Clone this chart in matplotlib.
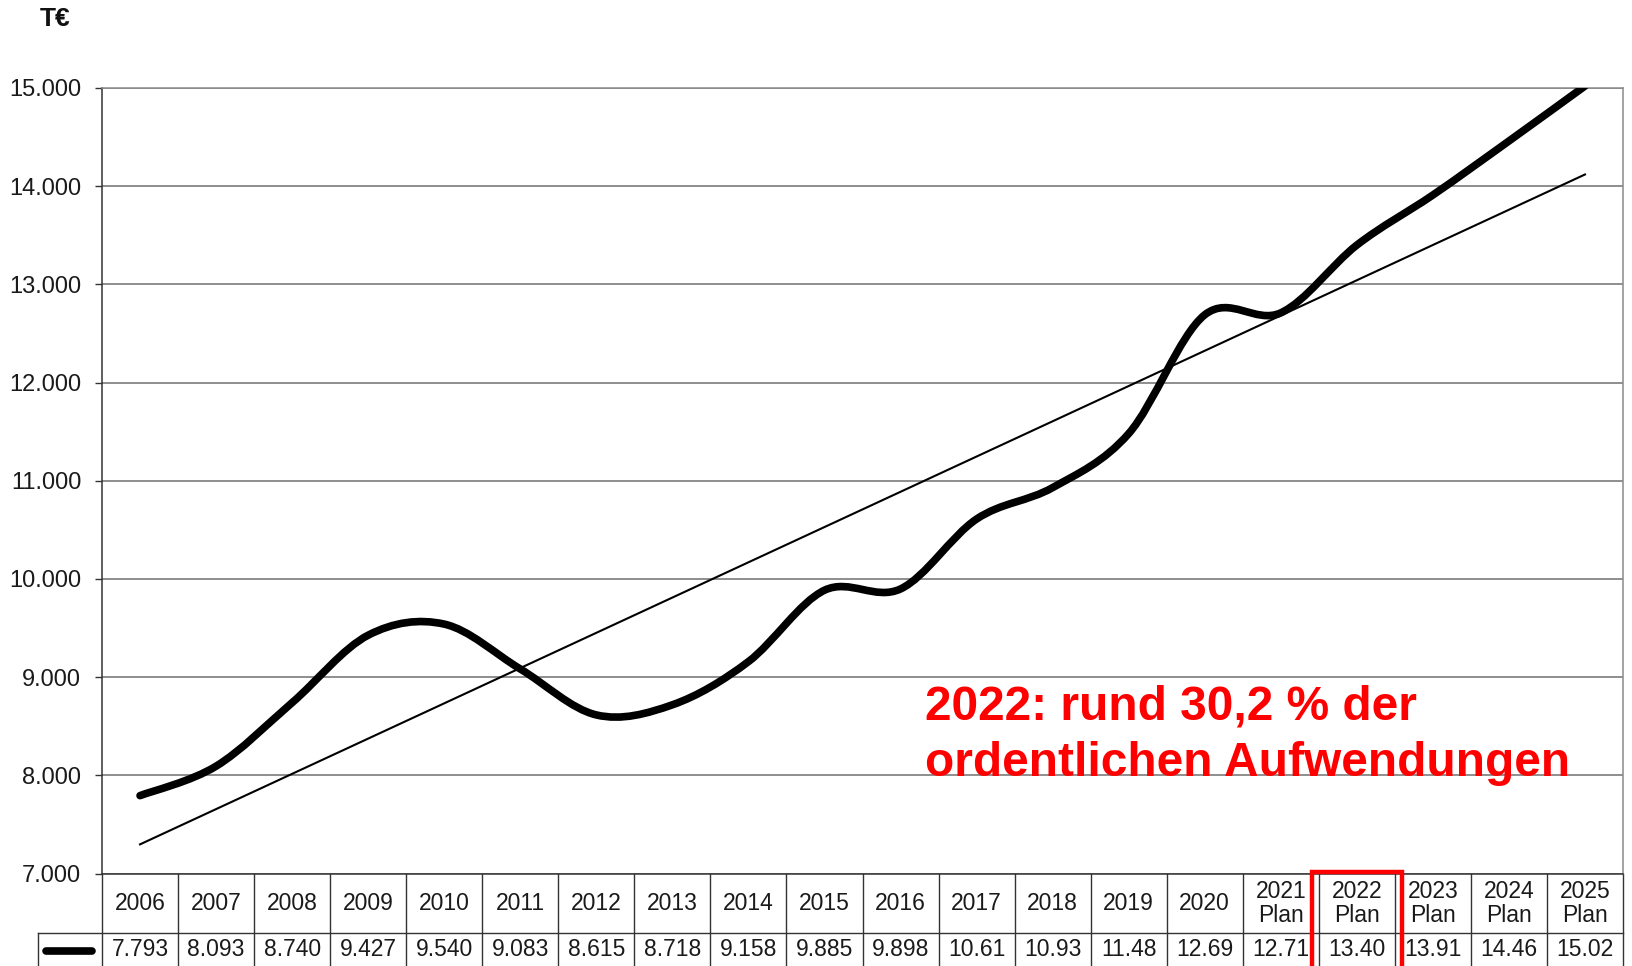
import matplotlib
matplotlib.use("Agg")
import matplotlib.pyplot as plt
import matplotlib.transforms as mtransforms
from matplotlib.path import Path
from matplotlib.patches import PathPatch, Rectangle
import numpy as np

plt.rcParams["font.family"] = ["Liberation Sans", "DejaVu Sans"]

# --- data ---
years = ["2006", "2007", "2008", "2009", "2010", "2011", "2012", "2013", "2014",
         "2015", "2016", "2017", "2018", "2019", "2020",
         "2021\nPlan", "2022\nPlan", "2023\nPlan", "2024\nPlan", "2025\nPlan"]
values = [7793, 8093, 8740, 9427, 9540, 9083, 8615, 8718, 9158, 9885,
          9898, 10610, 10930, 11480, 12690, 12710, 13400, 13910, 14460, 15020]
yticks = [7000, 8000, 9000, 10000, 11000, 12000, 13000, 14000, 15000]
ytick_labels = ["7.000", "8.000", "9.000", "10.000", "11.000",
                "12.000", "13.000", "14.000", "15.000"]
highlight = 16  # 2022 Plan

W, H = 1633, 966
fig = plt.figure(figsize=(W / 100, H / 100), dpi=100)
fig.patch.set_facecolor("white")

# axes box in pixels
L, R, T, B = 102, 1623, 88, 873.5
ax = fig.add_axes([L / W, (H - B) / H, (R - L) / W, (B - T) / H])

n = len(values)
x = np.arange(n)
y = np.array(values, dtype=float)

# Excel-style smoothed line: cubic Bezier (Catmull-Rom control points)
P = np.column_stack([x, y])
Pext = np.vstack([P[0], P, P[-1]])
verts = [tuple(P[0])]
codes = [Path.MOVETO]
for i in range(n - 1):
    p0, p1, p2, p3 = Pext[i], Pext[i + 1], Pext[i + 2], Pext[i + 3]
    c1 = p1 + (p2 - p0) / 6
    c2 = p2 - (p3 - p1) / 6
    verts += [tuple(c1), tuple(c2), tuple(p2)]
    codes += [Path.CURVE4] * 3
ax.add_patch(PathPatch(Path(verts, codes), facecolor="none", edgecolor="black",
                       lw=5.5, capstyle="round", joinstyle="round", zorder=4))

# linear trend line
k, d = np.polyfit(x, y, 1)
ax.plot(x, k * x + d, color="black", lw=1.5, zorder=3)

ax.set_xlim(-0.5, n - 0.5)
ax.set_ylim(7000, 15000)
ax.set_yticks(yticks)
ax.set_yticklabels(ytick_labels, fontsize=17, color="#1a1a1a")
ax.set_xticks([])
ax.tick_params(axis="y", direction="out", length=5, width=1, color="#333333", pad=10)
ax.grid(axis="y", color="#707070", lw=1.1, zorder=1)
for s in ["top", "right"]:
    ax.spines[s].set_color("#8a8a8a")
ax.spines["left"].set_color("#333333")
ax.spines["bottom"].set_color("#333333")
for s in ax.spines.values():
    s.set_linewidth(1.1)

# --- data table below the axes ---
tr = mtransforms.blended_transform_factory(ax.transData, fig.transFigure)
y_top = (H - B) / H
y_mid = (H - 933) / H
y_bot = -0.01
tc = "#333333"
for i in range(n + 1):
    ax.plot([i - 0.5, i - 0.5], [y_top, y_bot], color=tc, lw=1, transform=tr, clip_on=False)
fx = lambda px: px / W
ax.add_line(plt.Line2D([fx(38), fx(R)], [y_mid, y_mid], color=tc, lw=1,
                       transform=fig.transFigure, clip_on=False))
ax.add_line(plt.Line2D([fx(38), fx(38)], [y_mid, y_bot], color=tc, lw=1,
                       transform=fig.transFigure, clip_on=False))
ax.add_line(plt.Line2D([fx(46), fx(92)], [(H - 950.5) / H] * 2, color="black", lw=5.5,
                       solid_capstyle="round", transform=fig.transFigure, clip_on=False))

y_head = (H - 903.5) / H
y_val = (H - 950) / H
for i, (lab, v) in enumerate(zip(years, values)):
    ax.text(i, y_head, lab, transform=tr, ha="center", va="center", fontsize=16.5,
            color="#1a1a1a", linespacing=1.1)
    s = f"{v / 1000:.3f}"[:5]
    ax.text(i, y_val, s, transform=tr, ha="center", va="center", fontsize=16.5,
            color="#1a1a1a")

# red highlight box around 2022 Plan
pad = 0.09
ax.add_patch(Rectangle((highlight - 0.5 - pad, y_bot), 1 + 2 * pad, y_top - y_bot + 0.002,
                       transform=tr, fill=False, edgecolor="#ff0000", lw=3.2,
                       clip_on=False, zorder=6))

# annotations
fig.text(fx(55), (H - 19.5) / H, "T€", ha="center", va="center", fontsize=19,
         fontweight="bold", color="#111111")
fig.text(fx(925), (H - 707) / H, "2022: rund 30,2 % der", ha="left", va="center",
         fontsize=34.5, fontweight="bold", color="#ff0000")
fig.text(fx(925), (H - 764) / H, "ordentlichen Aufwendungen", ha="left", va="center",
         fontsize=34.5, fontweight="bold", color="#ff0000")

fig.savefig("out.png", dpi=100, facecolor="white")
